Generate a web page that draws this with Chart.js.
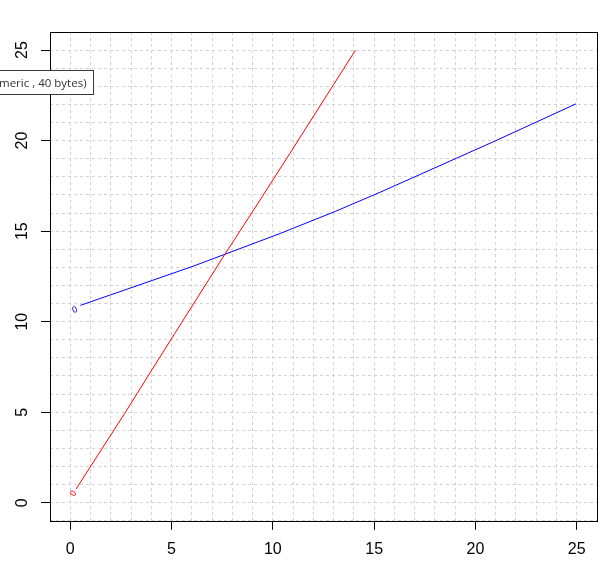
<!DOCTYPE html>
<html lang="en">
<head>
<meta charset="utf-8" />
<title>Two lines</title>
<script src="https://cdn.jsdelivr.net/npm/chart.js"></script>
<style>
    html, body { margin: 0; padding: 0; background: #ffffff; }
    #wrap { width: 612px; height: 563px; }
</style>
</head>
<body>
<div id="wrap"><canvas id="plot" width="612" height="563"></canvas></div>
<script>
    // red series
    const redX = [0.29, 2.68, 3.84, 5.16, 7.63, 9.37, 10.85, 13.0, 14.07];
    const redY = [0.76, 4.92, 7.0, 9.35, 13.72, 16.72, 19.31, 23.1, 24.98];
    // blue series
    const blueX = [0.50, 6.06, 10.36, 13.08, 15.3, 20.99, 24.96];
    const blueY = [10.90, 13.06, 14.87, 16.09, 17.15, 19.99, 22.03];
    // the little "0" tags at the start of each line
    const startTagX = [0.16, 0.23];
    const startTagY = [0.5, 10.65];

    const xTickLabels = [0, 5, 10, 15, 20, 25];
    const yTickLabels = [0, 5, 10, 15, 20, 25];
    const hoverText = 'meric , 40 bytes)';

    const FONT = '"Liberation Sans", Arial, sans-serif';

    const toPoints = (xs, ys) => xs.map((x, i) => ({ x: x, y: ys[i] }));
    const isLabelled = (list, v) => list.indexOf(v) !== -1;

    const tickColorFor = (list) => (ctx) =>
        (ctx.tick && isLabelled(list, ctx.tick.value)) ? '#000000' : 'rgba(0,0,0,0)';

    const framePlugin = {
        id: 'frame',
        afterDraw(chart) {
            const ctx = chart.ctx;
            const a = chart.chartArea;
            const xs = chart.scales.x;
            const ys = chart.scales.y;

            // box round the plot
            ctx.save();
            ctx.strokeStyle = '#000000';
            ctx.lineWidth = 1;
            ctx.strokeRect(Math.round(a.left) + 0.5, Math.round(a.top) + 0.5,
                Math.round(a.right - a.left), Math.round(a.bottom - a.top));

            // y tick labels, turned like R does
            ctx.fillStyle = '#000000';
            ctx.font = '16px ' + FONT;
            ctx.textAlign = 'center';
            ctx.textBaseline = 'middle';
            yTickLabels.forEach(v => {
                ctx.save();
                ctx.translate(a.left - 27, ys.getPixelForValue(v));
                ctx.rotate(-Math.PI / 2);
                ctx.fillText(String(v), 0, 0);
                ctx.restore();
            });

            // start tags, turned along each line
            const sets = chart.data.datasets;
            sets.forEach((ds, i) => {
                const p0 = ds.data[0], p1 = ds.data[ds.data.length - 1];
                const ang = Math.atan2(ys.getPixelForValue(p1.y) - ys.getPixelForValue(p0.y),
                    xs.getPixelForValue(p1.x) - xs.getPixelForValue(p0.x));
                ctx.save();
                ctx.translate(xs.getPixelForValue(startTagX[i]), ys.getPixelForValue(startTagY[i]));
                ctx.rotate(ang);
                ctx.fillStyle = ds.borderColor;
                ctx.font = '9px ' + FONT;
                ctx.fillText('0', 0, 0);
                ctx.restore();
            });

            // leftover hover box from the viewer
            ctx.fillStyle = '#ffffff';
            ctx.fillRect(-2, 70, 96, 24);
            ctx.strokeStyle = '#3a3a44';
            ctx.strokeRect(-1.5, 70.5, 95, 24);
            ctx.fillStyle = '#333333';
            ctx.font = '11.5px "Open Sans", sans-serif';
            ctx.textAlign = 'left';
            ctx.textBaseline = 'alphabetic';
            ctx.fillText(hoverText, -1, 87);
            ctx.restore();
        }
    };

    const gridBits = (list) => ({
        color: '#d3d3d3',
        lineWidth: 1,
        drawTicks: true,
        tickLength: 9,
        tickWidth: 1,
        tickColor: tickColorFor(list)
    });

    new Chart(document.getElementById('plot').getContext('2d'), {
        type: 'scatter',
        data: {
            datasets: [{
                data: toPoints(redX, redY),
                showLine: true,
                borderColor: '#ff0000',
                borderWidth: 1,
                pointRadius: 0,
                fill: false
            }, {
                data: toPoints(blueX, blueY),
                showLine: true,
                borderColor: '#0000ff',
                borderWidth: 1,
                pointRadius: 0,
                fill: false
            }]
        },
        options: {
            responsive: false,
            animation: false,
            layout: { padding: { left: 41, top: 32, right: 15, bottom: -6 } },
            plugins: { legend: { display: false }, tooltip: { enabled: false } },
            scales: {
                x: {
                    type: 'linear',
                    min: -1,
                    max: 26,
                    grid: gridBits(xTickLabels),
                    border: { display: false, dash: [3, 3] },
                    ticks: {
                        stepSize: 1,
                        autoSkip: false,
                        maxRotation: 0,
                        padding: 10,
                        color: '#000000',
                        font: { family: FONT, size: 16 },
                        callback: (v) => isLabelled(xTickLabels, v) ? String(v) : ''
                    }
                },
                y: {
                    type: 'linear',
                    min: -1,
                    max: 26,
                    grid: gridBits(yTickLabels),
                    border: { display: false, dash: [3, 3] },
                    ticks: { stepSize: 1, display: false }
                }
            }
        },
        plugins: [framePlugin]
    });
</script>
</body>
</html>
